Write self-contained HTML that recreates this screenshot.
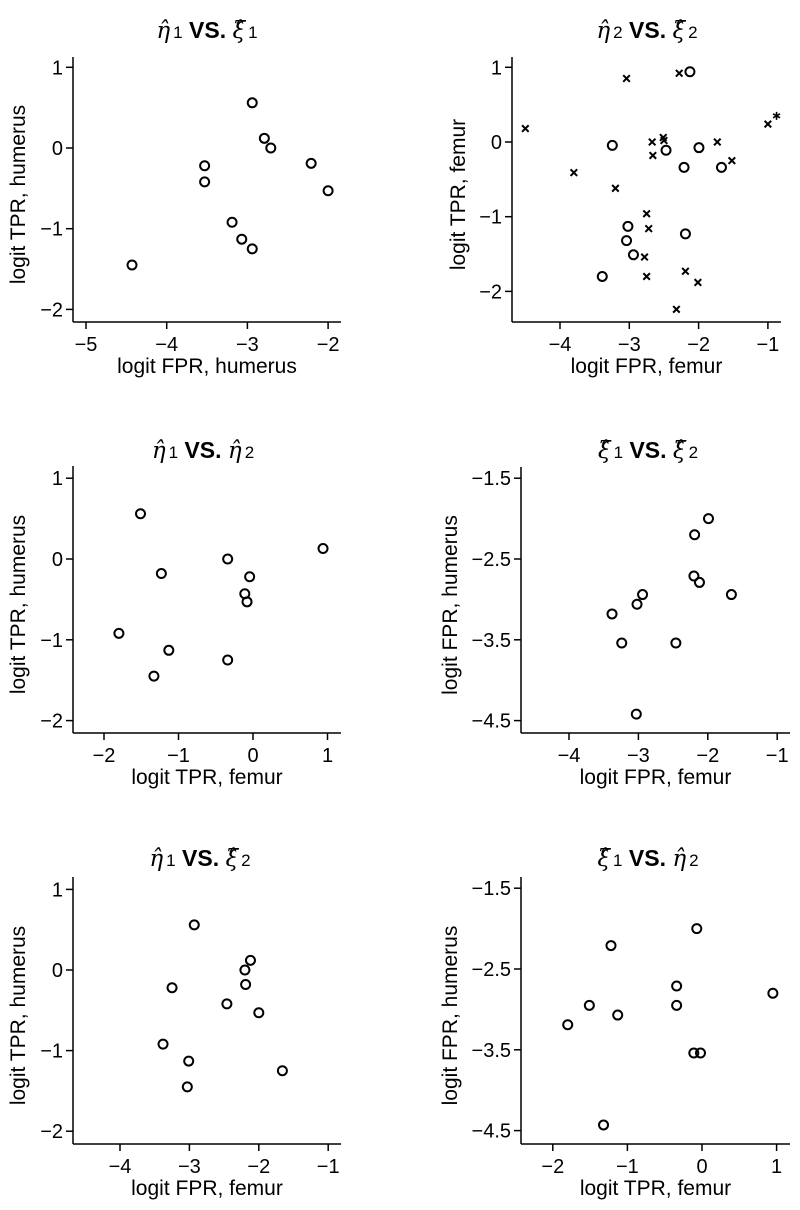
<!DOCTYPE html>
<html><head><meta charset="utf-8">
<style>
body{margin:0;background:#fff;}
svg{display:block;font-family:"Liberation Sans",Arial,sans-serif;}
</style></head>
<body>
<svg id="fig" width="800" height="1210" viewBox="0 0 800 1210"></svg>
<script>
// Panel 1: eta1 vs xi1 (humerus)
const p1x = [-4.43,-2.94,-2.79,-2.71,-3.53,-3.53,-2.21,-2.00,-3.19,-3.07,-2.94];
const p1y = [-1.45,0.56,0.12,0.0,-0.22,-0.42,-0.19,-0.53,-0.92,-1.13,-1.25];
// Panel 2: eta2 vs xi2 (femur) circles, crosses, asterisk
const p2cx = [-2.125,-3.245,-2.47,-1.995,-2.21,-1.67,-3.02,-3.04,-2.94,-3.39,-2.19];
const p2cy = [0.94,-0.045,-0.11,-0.076,-0.34,-0.34,-1.13,-1.32,-1.51,-1.80,-1.23];
const p2xx = [-4.50,-3.04,-2.28,-1.00,-2.67,-2.51,-2.50,-2.66,-1.73,-1.52,-3.80,-3.20,-2.75,-2.72,-2.78,-2.75,-2.19,-2.01,-2.32];
const p2xy = [0.18,0.85,0.92,0.24,0.0,0.06,0.02,-0.18,0.0,-0.25,-0.41,-0.62,-0.96,-1.16,-1.54,-1.80,-1.73,-1.88,-2.24];
const p2sx = [-0.875];
const p2sy = [0.35];
// Panel 3: eta1 vs eta2
const p3x = [-1.51,0.94,-0.34,-1.23,-0.045,-0.11,-0.08,-1.80,-1.13,-0.34,-1.33];
const p3y = [0.56,0.13,0.0,-0.18,-0.22,-0.43,-0.53,-0.92,-1.13,-1.25,-1.45];
// Panel 4: xi1 vs xi2
const p4x = [-1.99,-2.19,-2.20,-2.12,-1.66,-2.94,-3.02,-3.38,-3.24,-2.46,-3.03];
const p4y = [-2.00,-2.20,-2.71,-2.79,-2.94,-2.94,-3.06,-3.18,-3.54,-3.54,-4.42];
// Panel 5: eta1 vs xi2
const p5x = [-2.93,-2.12,-2.20,-2.19,-3.25,-2.46,-2.00,-3.38,-3.01,-1.66,-3.03];
const p5y = [0.56,0.12,0.0,-0.18,-0.22,-0.42,-0.53,-0.92,-1.13,-1.25,-1.45];
// Panel 6: xi1 vs eta2
const p6x = [-0.07,-1.22,-0.34,0.95,-1.51,-0.34,-1.13,-1.80,-0.11,-0.02,-1.32];
const p6y = [-2.00,-2.21,-2.71,-2.80,-2.95,-2.95,-3.07,-3.19,-3.54,-3.54,-4.43];
// Tick values
const ticksX1 = [-5,-4,-3,-2];
const ticksXF = [-4,-3,-2,-1];
const ticksXT = [-2,-1,0,1];
const ticksYT = [1,0,-1,-2];
const ticksYF = [-1.5,-2.5,-3.5,-4.5];

const NS="http://www.w3.org/2000/svg";
const svg=document.getElementById('fig');
function mk(tag,attrs,parent){const e=document.createElementNS(NS,tag);for(const k in attrs)e.setAttribute(k,attrs[k]);(parent||svg).appendChild(e);return e;}
function fmt(v){return (v<0?'\u2212':'')+String(Math.abs(v));}

const panels=[
 {name:'eta1-vs-xi1',t:['η','1','ξ','1'],ax:73,ab:322,atop:57,ar:341,
  xs:{v0:-5,p0:86,k:80.7},ys:{v0:0,p0:148,k:80.7},xt:ticksX1,yt:ticksYT,
  xl:'logit FPR, humerus',yl:'logit TPR, humerus',tc:207,tb:38,ylx:18,
  series:[{x:p1x,y:p1y,m:'o'}]},
 {name:'eta2-vs-xi2',t:['η','2','ξ','2'],ax:512,ab:322,atop:57,ar:781,
  xs:{v0:-4,p0:560,k:69.3},ys:{v0:0,p0:142,k:74.7},xt:ticksXF,yt:ticksYT,
  xl:'logit FPR, femur',yl:'logit TPR, femur',tc:647,tb:38,ylx:458,
  series:[{x:p2cx,y:p2cy,m:'o'},{x:p2xx,y:p2xy,m:'x'},{x:p2sx,y:p2sy,m:'*'}]},
 {name:'eta1-vs-eta2',t:['η','1','η','2'],ax:73,ab:733,atop:466,ar:341,
  xs:{v0:0,p0:253,k:74.5},ys:{v0:0,p0:559,k:80.8},xt:ticksXT,yt:ticksYT,
  xl:'logit TPR, femur',yl:'logit TPR, humerus',tc:203,tb:458,ylx:18,
  series:[{x:p3x,y:p3y,m:'o'}]},
 {name:'xi1-vs-xi2',t:['ξ','1','ξ','2'],ax:521,ab:733,atop:467,ar:790,
  xs:{v0:-4,p0:569,k:69.4},ys:{v0:-2.5,p0:559,k:80.8},xt:ticksXF,yt:ticksYF,
  xl:'logit FPR, femur',yl:'logit FPR, humerus',tc:648,tb:458,ylx:450,
  series:[{x:p4x,y:p4y,m:'o'}]},
 {name:'eta1-vs-xi2',t:['η','1','ξ','2'],ax:73,ab:1144,atop:877,ar:341,
  xs:{v0:-4,p0:120,k:69.4},ys:{v0:0,p0:970,k:80.6},xt:ticksXF,yt:ticksYT,
  xl:'logit FPR, femur',yl:'logit TPR, humerus',tc:200,tb:866,ylx:18,
  series:[{x:p5x,y:p5y,m:'o'}]},
 {name:'xi1-vs-eta2',t:['ξ','1','η','2'],ax:521,ab:1144,atop:877,ar:790,
  xs:{v0:0,p0:702,k:74.6},ys:{v0:-2.5,p0:969,k:80.8},xt:ticksXT,yt:ticksYF,
  xl:'logit TPR, femur',yl:'logit FPR, humerus',tc:648,tb:866,ylx:450,
  series:[{x:p6x,y:p6y,m:'o'}]}
];

panels.forEach(P=>{
  const g=mk('g',{});
  
  
  const X=v=>P.xs.p0+(v-P.xs.v0)*P.xs.k;
  const Y=v=>P.ys.p0-(v-P.ys.v0)*P.ys.k;
  // title
  const t=mk('text',{x:P.tc,y:P.tb,'text-anchor':'middle','font-size':23,'font-weight':'bold',fill:'#000'},g);
  
  
  const a=mk('tspan',{'font-style':'italic','font-family':'DejaVu Serif,serif','font-weight':'normal'},t);a.textContent=P.t[0]+'\u0302';
  const b=mk('tspan',{'font-size':17,'font-weight':'normal',dx:3},t);b.textContent=P.t[1];
  const c=mk('tspan',{},t);c.textContent=' VS. ';
  const d=mk('tspan',{'font-style':'italic','font-family':'DejaVu Serif,serif','font-weight':'normal'},t);d.textContent=P.t[2]+'\u0302';
  const e=mk('tspan',{'font-size':17,'font-weight':'normal',dx:3},t);e.textContent=P.t[3];
  // axes
  const xa=mk('line',{x1:P.ax,y1:P.ab,x2:P.ar,y2:P.ab,stroke:'#000','stroke-width':1.5},g);
  
  
  const ya=mk('line',{x1:P.ax,y1:P.atop,x2:P.ax,y2:P.ab,stroke:'#000','stroke-width':1.5},g);
  
  
  P.xt.forEach(v=>{
    const px=X(v);
    mk('line',{x1:px,y1:P.ab,x2:px,y2:P.ab+7,stroke:'#000','stroke-width':1.5},g);
    const tl=mk('text',{x:px,y:P.ab+29,'text-anchor':'middle','font-size':20,fill:'#000'},g);
    
    
    tl.textContent=fmt(v);
  });
  P.yt.forEach(v=>{
    const py=Y(v);
    mk('line',{x1:P.ax-7,y1:py,x2:P.ax,y2:py,stroke:'#000','stroke-width':1.5},g);
    const tl=mk('text',{x:P.ax-10,y:py+7,'text-anchor':'end','font-size':20,fill:'#000'},g);
    
    
    tl.textContent=fmt(v);
  });
  const xl=mk('text',{x:(P.ax+P.ar)/2,y:P.ab+51,'text-anchor':'middle','font-size':21,fill:'#000'},g);
  
  
  xl.textContent=P.xl;
  const cy=(P.atop+P.ab)/2+5;
  const yl=mk('text',{x:P.ylx,y:cy,'text-anchor':'middle','font-size':21,fill:'#000',transform:`rotate(-90 ${P.ylx} ${cy})`,dy:7},g);
  
  
  yl.textContent=P.yl;
  P.series.forEach(s=>{
    s.x.forEach((xv,i)=>{
      const px=X(xv),py=Y(s.y[i]);
      let m;
      if(s.m==='o'){
        m=mk('circle',{cx:px,cy:py,r:4.5,fill:'none',stroke:'#000','stroke-width':2},g);
        
      }else if(s.m==='x'){
        m=mk('path',{d:`M${px-3.3},${py-3.3}L${px+3.3},${py+3.3}M${px+3.3},${py-3.3}L${px-3.3},${py+3.3}`,stroke:'#000','stroke-width':2},g);
        
      }else{
        m=mk('path',{d:`M${px},${py-4}L${px},${py+4}M${px-3.5},${py-2}L${px+3.5},${py+2}M${px+3.5},${py-2}L${px-3.5},${py+2}`,stroke:'#000','stroke-width':1.6},g);
        
      }
      
    });
  });
});
</script>
</body></html>
